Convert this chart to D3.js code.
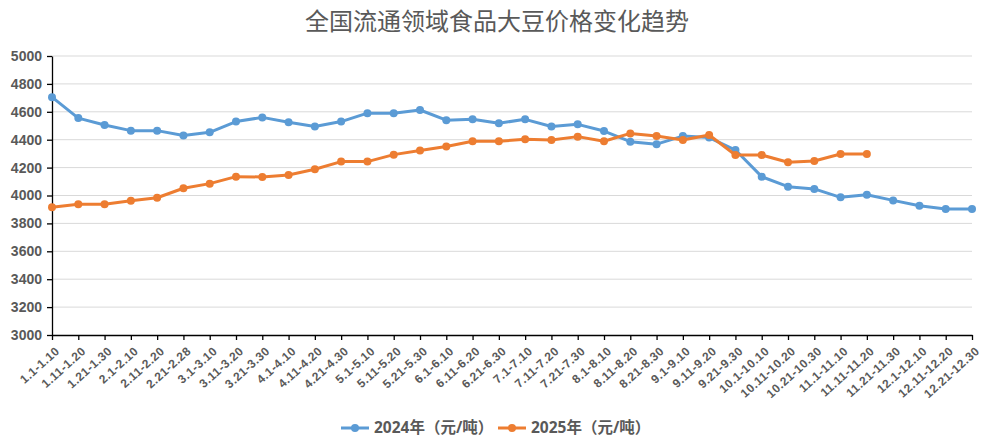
<!DOCTYPE html>
<html>
<head>
<meta charset="utf-8">
<script src="https://cdn.jsdelivr.net/npm/d3@7"></script>
<style>
	body { margin: 0; background: #fff; }
	svg { display: block; font-family: "Open Sans", "Noto Sans CJK SC", sans-serif; }
	.grid line { stroke: #d9d9d9; stroke-width: 1; }
	.axis path, .axis line { stroke: #000; stroke-width: 1.3; }
	.axis text { fill: #595959; font-weight: bold; }
</style>
</head>
<body>
<svg id="chart" width="985" height="444"></svg>
<script>
// 旬度类别
var categories = ["1.1-1.10", "1.11-1.20", "1.21-1.30", "2.1-2.10", "2.11-2.20", "2.21-2.28",
	"3.1-3.10", "3.11-3.20", "3.21-3.30", "4.1-4.10", "4.11-4.20", "4.21-4.30",
	"5.1-5.10", "5.11-5.20", "5.21-5.30", "6.1-6.10", "6.11-6.20", "6.21-6.30",
	"7.1-7.10", "7.11-7.20", "7.21-7.30", "8.1-8.10", "8.11-8.20", "8.21-8.30",
	"9.1-9.10", "9.11-9.20", "9.21-9.30", "10.1-10.10", "10.11-10.20", "10.21-10.30",
	"11.1-11.10", "11.11-11.20", "11.21-11.30", "12.1-12.10", "12.11-12.20", "12.21-12.30"];

var values2024 = [4705, 4555, 4505, 4465, 4465, 4430, 4453, 4530, 4560, 4525, 4495, 4530,
	4590, 4590, 4613, 4540, 4546, 4518, 4546, 4495, 4510, 4462, 4386, 4368,
	4426, 4415, 4326, 4135, 4063, 4047, 3987, 4006, 3965, 3927, 3903, 3903];

var values2025 = [3915, 3937, 3937, 3962, 3984, 4052, 4085, 4135, 4133, 4147, 4188, 4243,
	4243, 4293, 4322, 4351, 4389, 4389, 4403, 4398, 4422, 4389, 4445, 4426,
	4398, 4434, 4290, 4290, 4238, 4247, 4297, 4297];

var yTicks = [3000, 3200, 3400, 3600, 3800, 4000, 4200, 4400, 4600, 4800, 5000];

var seriesNames = ["2024年（元/吨）", "2025年（元/吨）"];
var seriesColors = ["#5b9bd5", "#ed7d31"];

var svg = d3.select("#chart");
var plotLeft = 52, plotRight = 972, plotTop = 56, plotBottom = 335;

var x = d3.scalePoint()
	.domain(categories)
	.range([plotLeft, plotRight]);

var y = d3.scaleLinear()
	.domain([3000, 5000])
	.range([plotBottom, plotTop]);

// 标题
svg.append("text")
	.attr("x", 497)
	.attr("y", 30)
	.attr("text-anchor", "middle")
	.attr("fill", "#595959")
	.style("font-family", "'Noto Sans CJK SC', sans-serif")
	.style("font-size", "24px")
	.text("全国流通领域食品大豆价格变化趋势");

// 网格
svg.append("g")
	.attr("class", "grid")
	.selectAll("line")
	.data(yTicks.slice(1))
	.enter()
	.append("line")
	.attr("x1", plotLeft)
	.attr("x2", plotRight)
	.attr("y1", function (d) { return y(d); })
	.attr("y2", function (d) { return y(d); });

// y 轴
var yAxis = svg.append("g")
	.attr("class", "axis")
	.attr("transform", "translate(" + plotLeft + ",0)")
	.call(d3.axisLeft(y).tickValues(yTicks).tickFormat(d3.format("d")).tickSize(5).tickPadding(5).tickSizeOuter(0));
yAxis.selectAll("text")
	.style("font-size", "14px");

// x 轴
var xAxis = svg.append("g")
	.attr("class", "axis")
	.attr("transform", "translate(0," + plotBottom + ")")
	.call(d3.axisBottom(x).tickSize(5).tickSizeOuter(0));
xAxis.selectAll("text")
	.style("font-size", "12px")
	.style("letter-spacing", "0.5px")
	.attr("text-anchor", "end")
	.attr("dy", "0.35em")
	.attr("transform", "translate(5,14) rotate(-42)")
	.attr("x", 0)
	.attr("y", 0);

// 折线
var allSeries = [values2024, values2025];

var line = d3.line()
	.x(function (d, i) { return x(categories[i]); })
	.y(function (d) { return y(d); });

allSeries.forEach(function (vals, k) {
	var g = svg.append("g").attr("class", "series");

	g.append("path")
		.datum(vals)
		.attr("fill", "none")
		.attr("stroke", seriesColors[k])
		.attr("stroke-width", 3)
		.attr("stroke-linejoin", "round")
		.attr("d", line);

	g.selectAll("circle")
		.data(vals)
		.enter()
		.append("circle")
		.attr("cx", function (d, i) { return x(categories[i]); })
		.attr("cy", function (d) { return y(d); })
		.attr("r", 4)
		.attr("fill", seriesColors[k]);
});

// 图例
var legendX = [341, 498];
var legend = svg.append("g").attr("class", "legend");
seriesNames.forEach(function (name, k) {
	var lg = legend.append("g")
		.attr("transform", "translate(" + legendX[k] + ",428)");
	lg.append("line")
		.attr("x1", 0)
		.attr("x2", 28)
		.attr("stroke", seriesColors[k])
		.attr("stroke-width", 3);
	lg.append("circle")
		.attr("cx", 14)
		.attr("r", 4)
		.attr("fill", seriesColors[k]);
	lg.append("text")
		.attr("x", 33)
		.attr("dy", "0.35em")
		.attr("fill", "#595959")
		.style("font-weight", "bold")
		.style("font-size", "15.5px")
		.text(name);
});
</script>
</body>
</html>
